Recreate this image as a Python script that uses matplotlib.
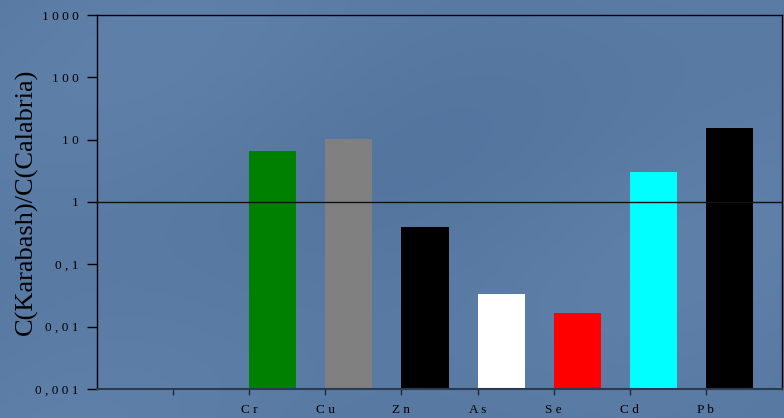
import numpy as np
import matplotlib
matplotlib.use("Agg")
import matplotlib.pyplot as plt
from matplotlib.colors import LinearSegmentedColormap

# Element ratios Karabash / Calabria
elements = ["", "Cr", "Cu", "Zn", "As", "Se", "Cd", "Pb"]
ratios = [np.nan, 6.6, 10.3, 0.40, 0.032, 0.0154, 3.0, 15.4]
bar_colors = ["none", "#008000", "#808080", "#000000", "#ffffff", "#ff0000", "#00ffff", "#000000"]

y_ticks = [0.001, 0.01, 0.1, 1, 10, 100, 1000]
y_ticklabels = ["0,001", "0,01", "0,1", "1", "10", "100", "1000"]


def spaced(s):
    return " ".join(s)


serif = ["Liberation Serif", "DejaVu Serif"]
bg = "#5a7ba3"

fig = plt.figure(figsize=(7.84, 4.18), dpi=100)
fig.patch.set_facecolor(bg)

# soft backdrop shading across the whole figure
bgax = fig.add_axes([0, 0, 1, 1], zorder=-10)
yy, xx = np.mgrid[0:1:200j, 0:1:400j]
shade = 0.5 + 0.25 * np.sin(6 * xx + 4 * yy) * np.cos(3 * yy - 2 * xx)
cmap = LinearSegmentedColormap.from_list("bgc", ["#4f709a", "#6486ad"])
bgax.imshow(shade, cmap=cmap, aspect="auto", extent=[0, 1, 0, 1], vmin=0, vmax=1)
bgax.axis("off")

ax = fig.add_axes([0.1237, 0.0694, 0.8737, 0.8947])
ax.set_facecolor("none")

x = np.arange(1, len(elements) + 1)
ax.bar(x, ratios, width=0.62, align="edge", color=bar_colors, bottom=0.001, zorder=2)

ax.set_yscale("log")
ax.set_ylim(0.001, 1000)
ax.set_xlim(0, 9)
ax.set_yticks(y_ticks)
ax.set_yticklabels([spaced(t) for t in y_ticklabels], fontfamily=serif, fontsize=9.5)
ax.yaxis.set_minor_locator(matplotlib.ticker.NullLocator())
ax.set_xticks(x)
ax.set_xticklabels([spaced(e) for e in elements], fontfamily=serif, fontsize=9.5)

ax.tick_params(axis="y", direction="out", length=7, width=1, colors="black", pad=6)
ax.tick_params(axis="x", direction="out", length=4, width=1, colors="#1c2a3c", pad=7,
               labelcolor="black")

ax.axhline(1, color="#111111", lw=1, zorder=3)

for side in ["left", "top", "right"]:
    ax.spines[side].set_color("black")
    ax.spines[side].set_linewidth(1)
ax.spines["bottom"].set_color("#2a3a52")
ax.spines["bottom"].set_linewidth(1.5)
ax.spines["top"].set_zorder(3)

ax.set_ylabel("C(Karabash)/C(Calabria)", fontfamily=serif, fontsize=19, labelpad=-2)

fig.savefig("out.png", dpi=100, facecolor=fig.get_facecolor())
